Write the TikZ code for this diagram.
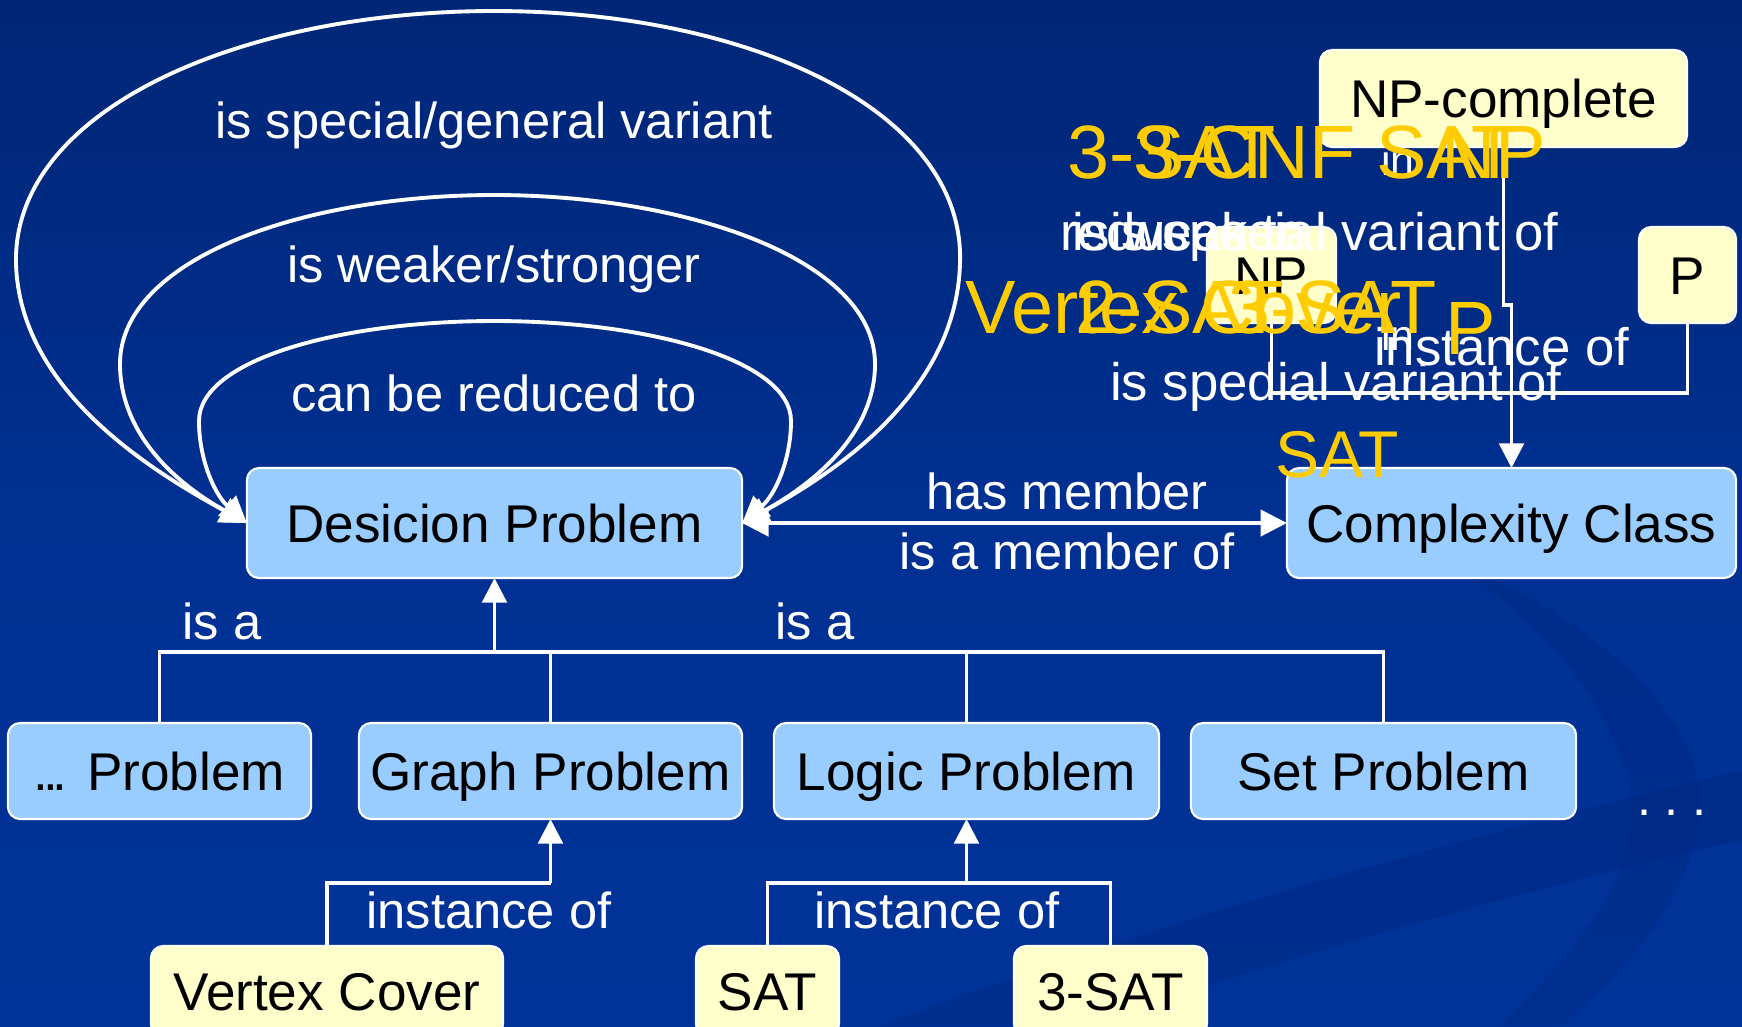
\documentclass[tikz,border=0pt]{standalone}
\usepackage{fontspec}
\setmainfont{Liberation Sans}
\usetikzlibrary{arrows.meta}

\definecolor{bgtop}{RGB}{0,38,118}
\definecolor{bgmid}{RGB}{0,48,146}
\definecolor{bgbot}{RGB}{0,51,153}
\definecolor{bgdark}{RGB}{0,36,120}
\definecolor{boxblue}{RGB}{153,204,255}
\definecolor{boxyellow}{RGB}{255,255,204}
\definecolor{hiyellow}{RGB}{255,204,0}

\tikzset{
  every node/.style={inner sep=0pt, outer sep=0pt},
  box/.style={draw=white, line width=0.6pt, rounded corners=3.5pt, text=black,
    font=\fontsize{15.1}{18}\selectfont, text height=10.8pt, text depth=0pt},
  classbox/.style={box, fill=boxblue},
  inst/.style={box, fill=boxyellow},
  conn/.style={draw=white, line width=1pt},
  tip/.style={-{Triangle[length=7pt,width=7pt]}},
  bothtips/.style={{Triangle[length=7.5pt,width=7.5pt]}-{Triangle[length=7.5pt,width=7.5pt]}},
  arc/.style={draw=white, line width=1.1pt, bothtips},
  lbl/.style={text=white, font=\fontsize{14.4}{17}\selectfont, anchor=base},
  lblw/.style={text=white, font=\fontsize{15}{17}\selectfont, anchor=base west},
  small/.style={text=white, font=\fontsize{12.2}{14}\selectfont, anchor=base west},
  yel/.style={text=hiyellow, font=\fontsize{21.5}{25}\selectfont, anchor=base west},
  yelsm/.style={text=hiyellow, font=\fontsize{18.8}{22}\selectfont, anchor=base west}
}

\begin{document}
\begin{tikzpicture}[x=0.01cm, y=-0.01cm]
\useasboundingbox (0,0) rectangle (1742,1026);

% background
\shade[top color=bgtop, bottom color=bgbot, middle color=bgmid] (0,0) rectangle (1742,1026);
\fill[bgdark, opacity=0.3] (880,1026) .. controls (1200,905) and (1500,830) .. (1742,770)
  -- (1742,840) .. controls (1520,890) and (1280,960) .. (1080,1026) -- cycle;
\fill[bgdark, opacity=0.25] (1450,560) .. controls (1600,620) and (1700,720) .. (1700,800)
  .. controls (1700,880) and (1640,960) .. (1560,1026) -- (1500,1026)
  .. controls (1600,930) and (1640,860) .. (1630,790) .. controls (1610,700) and (1550,630) .. (1450,560) -- cycle;

% problem classes
\node[classbox, minimum width=4.95cm, minimum height=1.10cm] (dp) at (494.5,523) {Desicion Problem};
\node[classbox, minimum width=4.49cm, minimum height=1.10cm] (cc) at (1511.5,523) {Complexity Class};
\node[classbox, minimum width=3.03cm, minimum height=0.96cm] (p0) at (159.5,771) {.\kern-0.1em.\kern-0.1em. Problem};
\node[classbox, minimum width=3.83cm, minimum height=0.96cm] (gp) at (550.5,771) {Graph Problem};
\node[classbox, minimum width=3.85cm, minimum height=0.96cm] (lp) at (966.5,771) {Logic Problem};
\node[classbox, minimum width=3.85cm, minimum height=0.96cm] (sp) at (1383.5,771) {Set Problem};

% instances
\node[inst, minimum width=3.52cm, minimum height=0.90cm] (vc) at (327,991) {Vertex Cover};
\node[inst, minimum width=1.43cm, minimum height=0.90cm] (sat) at (767.5,991) {SAT};
\node[inst, minimum width=1.93cm, minimum height=0.90cm] (sat3) at (1110.5,991) {3-SAT};
\node[inst, minimum width=3.67cm, minimum height=0.97cm] (npc) at (1503.5,98.5) {NP-complete};
\node[inst, minimum width=1.29cm, minimum height=0.96cm] (np) at (1271.5,275) {NP};
\node[inst, minimum width=0.97cm, minimum height=0.96cm] (pp) at (1687.5,275) {P};

% relations of a decision problem to itself
\draw[arc] (dp.west) .. controls (150,470) and (20,390) .. (16,264)
  .. controls (12,110) and (240,11) .. (494,11)
  .. controls (748,11) and (966,110) .. (960,264)
  .. controls (956,390) and (840,470) .. (dp.east);
\draw[arc] (dp.west) .. controls (170,480) and (120,430) .. (120,364)
  .. controls (120,260) and (300,195) .. (494,195)
  .. controls (688,195) and (875,260) .. (875,364)
  .. controls (875,430) and (820,480) .. (dp.east);
\draw[arc] (dp.west) .. controls (215,495) and (199,460) .. (199,421)
  .. controls (199,360) and (340,321) .. (494,321)
  .. controls (648,321) and (791,360) .. (791,421)
  .. controls (791,460) and (775,495) .. (dp.east);
\node[lbl] (l1) at (494,138) {is special/general variant};
\node[lbl] (l2) at (494,282) {is weaker/stronger};
\node[lbl] (l3) at (494,411) {can be reduced to};

% membership
\draw[conn, bothtips] (dp.east) -- (cc.west);
\node[lbl] (l4) at (1067,509) {has member};
\node[lbl] (l5) at (1067,569) {is a member of};

% "is a" hierarchy
\coordinate (isa) at (494.5,652);
\draw[conn] (p0.north) |- (isa) -| (sp.north);
\draw[conn] (gp.north) -- (gp.north |- isa);
\draw[conn] (lp.north) -- (lp.north |- isa);
\draw[conn, tip] (isa) -- (dp.south);
\node[lbl] (l6) at (222,639) {is a};
\node[lbl] (l7) at (815,639) {is a};

% instances of problem classes
\coordinate (gj) at (550.5,883);
\draw[conn] (vc.north) |- (gj);
\draw[conn, tip] (gj) -- (gp.south);
\coordinate (lj) at (966.5,883);
\draw[conn] (sat.north) |- (lj) -| (sat3.north);
\draw[conn, tip] (lj) -- (lp.south);
\node[lbl] (l8) at (489,928) {instance of};
\node[lbl] (l9) at (937,928) {instance of};
\node[lbl] (dots) at (1672,815) {.\kern0.26em.\kern0.26em.};

% complexity classes
\coordinate (kink) at (1511.5,305);
\draw[conn, tip] (npc.south) |- (kink) -- (cc.north);
\coordinate (npbar) at (1687.5,393);
\draw[conn] (np.south) |- (npbar) -- (pp.south);
\node[lblw] (t1) at (1374,365) {instance of};

% example statements
\node[lblw] (w1) at (1060,250) {reduces to};
\node[lblw] (w2) at (1072,250) {is weaker};
\node[lblw] (w3) at (1110,250) {is special variant of};
\node[lblw] (w4) at (1110,400) {is spedial variant of};
\node[small] (in1) at (1381,175) {in};
\node[small] (in2) at (1381,350) {in};
\node[yel] (y1) at (1067,178) {3-SAT};
\node[yel] (y2) at (1133,178) {3-CNF SAT};
\node[yel] (y3) at (1441,178) {NP};
\node[yel] (y4) at (965,333) {Vertex Cover};
\node[yel] (y5) at (1075,333) {2-SAT};
\node[yel] (y6) at (1228,333) {3-SAT};
\node[yel] (y7) at (1445,354) {P};
\node[yelsm] (y8) at (1275,477) {SAT};
\end{tikzpicture}
\end{document}
